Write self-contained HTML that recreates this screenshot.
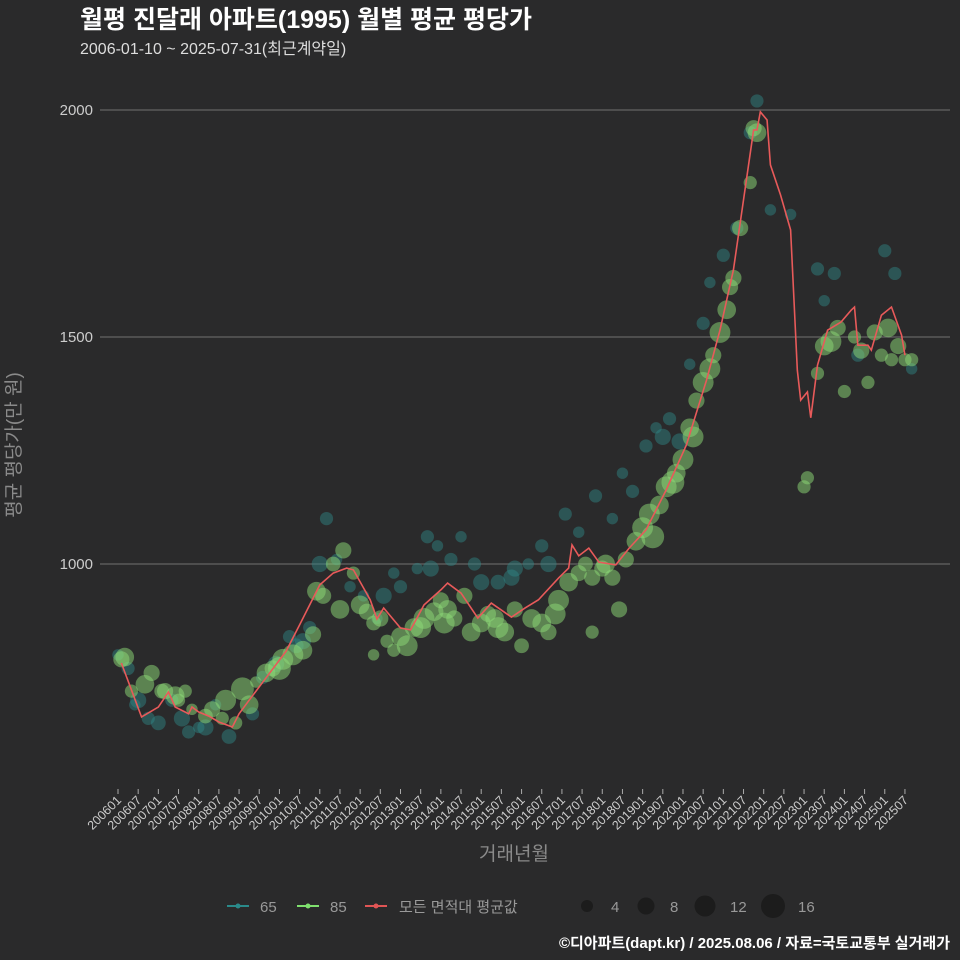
<!DOCTYPE html>
<html><head><meta charset="utf-8"><style>
body{margin:0;background:#2a2a2b;overflow:hidden;}
svg text{font-family:"Liberation Sans","Noto Sans CJK KR",sans-serif;}
</style></head><body>
<svg id="c" width="960" height="960" xmlns="http://www.w3.org/2000/svg" style="display:block">
<rect width="960" height="960" fill="#2a2a2b"/>
<text x="80" y="28" fill="#fff" font-size="25" font-weight="bold">월평 진달래 아파트(1995) 월별 평균 평당가</text>
<text x="80" y="54" fill="#ddd" font-size="16">2006-01-10 ~ 2025-07-31(최근계약일)</text>
<text transform="translate(20,445) rotate(-90)" text-anchor="middle" fill="#8a8a8a" font-size="19">평균 평당가(만 원)</text>
<text x="514" y="860" text-anchor="middle" fill="#8a8a8a" font-size="19">거래년월</text>
<g id="grid"></g><g id="teal"></g><g id="green"></g><g id="line"></g><g id="xaxis"></g>
<g font-size="15" fill="#999">
<line x1="227" y1="906" x2="249" y2="906" stroke="#2a8a8a" stroke-width="2"/><circle cx="238" cy="906" r="2.5" fill="#2a8a8a"/><text x="260" y="912">65</text>
<line x1="297" y1="906" x2="319" y2="906" stroke="#7fe06e" stroke-width="2"/><circle cx="308" cy="906" r="2.5" fill="#7fe06e"/><text x="330" y="912">85</text>
<line x1="365" y1="906" x2="387" y2="906" stroke="#e05555" stroke-width="2"/><circle cx="376" cy="906" r="2.5" fill="#e05555"/><text x="399" y="912">모든 면적대 평균값</text>
<circle cx="587" cy="906" r="6" fill="#1c1c1c"/><text x="611" y="912">4</text>
<circle cx="646" cy="906" r="8.5" fill="#1c1c1c"/><text x="670" y="912">8</text>
<circle cx="705" cy="906" r="10.5" fill="#1c1c1c"/><text x="730" y="912">12</text>
<circle cx="773" cy="906" r="12" fill="#1c1c1c"/><text x="798" y="912">16</text>
</g>
<text x="950" y="948" text-anchor="end" fill="#fff" font-size="15" font-weight="bold">©디아파트(dapt.kr) / 2025.08.06 / 자료=국토교통부 실거래가</text>
</svg>
<script>
const yTicks=[1000,1500,2000];
const lineMonths=[1,7,12,15,17,21,22,24,27,30,34,36,39,44,50,54,60,64,68,70,75,77,79,84,87,91,96,98,102,107,111,117,121,125,131,134,135,137,140,143,148,152,157,163,169,175,179,183,186,189,190,191,193,194,197,200,201,202,203,205,206,208,211,215,218,219,220,223,224,227,230,233,234];
const lineValues=[782,663,685,718,685,670,685,674,665,652,641,670,700,749,808,866,954,980,991,987,921,879,903,859,855,910,943,958,936,881,914,883,903,921,969,991,1042,1018,1035,1004,998,1035,1075,1163,1262,1405,1515,1648,1802,1956,1956,1996,1978,1879,1813,1736,1582,1427,1361,1379,1322,1438,1515,1533,1559,1566,1482,1482,1471,1548,1566,1504,1460];
const greenPts=[[1,790,6],[2,795,8],[4,720,4],[8,735,8],[10,760,6],[13,720,5],[14,720,6],[18,700,4],[20,720,4],[22,680,3],[26,665,5],[28,680,6],[31,660,4],[35,650,4],[37,725,12],[39,690,8],[41,740,3],[44,760,8],[46,770,6],[49,790,10],[52,800,10],[55,810,8],[58,845,6],[59,940,8],[61,930,6],[64,1000,5],[67,1030,6],[70,980,4],[72,910,8],[74,895,6],[76,870,5],[78,880,6],[80,830,4],[82,810,4],[84,840,8],[86,820,10],[88,860,8],[91,880,10],[94,895,8],[96,920,6],[98,900,8],[100,880,6],[103,930,6],[105,850,8],[108,870,8],[110,890,6],[112,880,8],[115,850,8],[118,900,6],[120,820,5],[123,880,8],[126,870,8],[128,850,6],[131,920,10],[134,960,8],[137,980,6],[139,1000,5],[141,970,6],[144,990,6],[147,970,6],[149,900,6],[151,1010,6],[154,1050,8],[156,1080,10],[159,1060,12],[161,1130,8],[163,1170,10],[166,1200,8],[168,1230,10],[170,1300,8],[172,1360,6],[174,1400,10],[177,1460,6],[179,1510,10],[181,1560,8],[183,1630,6],[185,1740,6],[188,1840,4],[189,1960,6],[190,1950,8],[204,1170,4],[205,1190,4],[208,1420,4],[210,1480,8],[212,1490,10],[214,1520,6],[216,1380,4],[219,1500,4],[221,1470,6],[223,1400,4],[225,1510,6],[227,1460,4],[229,1520,8],[230,1450,4],[232,1480,6],[234,1450,4],[236,1450,4],[141,850,4],[76,800,3],[17,710,8],[32,700,10],[48,770,12],[66,900,8],[90,860,10],[97,870,10],[113,860,10],[130,890,10],[145,1000,8],[158,1110,10],[165,1180,12],[171,1280,10],[176,1430,10],[182,1610,6]];
const tealPts=[[0,800,3],[3,770,4],[5,690,3],[9,660,4],[12,650,5],[16,700,4],[19,660,6],[21,630,4],[24,640,3],[29,690,3],[33,620,5],[40,670,4],[43,750,4],[47,780,6],[51,840,4],[53,820,5],[57,860,4],[60,1000,6],[62,1100,4],[65,1010,3],[69,950,3],[73,930,3],[77,880,3],[82,980,3],[84,950,4],[89,990,3],[92,1060,4],[95,1040,3],[99,1010,4],[102,1060,3],[106,1000,4],[113,960,5],[118,990,6],[122,1000,3],[126,1040,4],[133,1110,4],[137,1070,3],[142,1150,4],[147,1100,3],[150,1200,3],[153,1160,4],[157,1260,4],[160,1300,3],[164,1320,4],[167,1270,6],[170,1440,3],[174,1530,4],[176,1620,3],[180,1680,4],[184,1740,4],[188,1950,4],[190,2020,4],[194,1780,3],[200,1770,3],[208,1650,4],[210,1580,3],[213,1640,4],[220,1460,4],[228,1690,4],[231,1640,4],[236,1430,3],[6,700,6],[26,640,6],[55,830,6],[79,930,6],[93,990,6],[108,960,6],[117,970,6],[128,1000,6],[162,1280,6]];
const NS="http://www.w3.org/2000/svg";
const X=m=>118+m*3.363, Y=v=>110+(2000-v)*227/500, R=n=>Math.sqrt(n)*3.3;
function mk(t,a,p){const e=document.createElementNS(NS,t);for(const k in a)e.setAttribute(k,a[k]);document.getElementById(p).appendChild(e);return e;}
yTicks.forEach(v=>{
 const l=mk('line',{x1:100,x2:950,y1:Y(v),y2:Y(v),stroke:'#5a5a5a','stroke-width':1.5},'grid');
 
 
 const t=mk('text',{x:93,y:Y(v)+5,'text-anchor':'end',fill:'#ccc','font-size':15},'grid');t.textContent=v;
 
 
});
for(let i=0;i<40;i++){
 const m=i*6,yr=2006+Math.floor(i/2),lab=yr+(i%2?'07':'01'),x=X(m);
 const tk=mk('line',{x1:x,x2:x,y1:789,y2:794,stroke:'#aaa'},'xaxis');
 
 
 const t=mk('text',{transform:`translate(${x+4},${801}) rotate(-45)`,'text-anchor':'end',fill:'#ccc','font-size':12.5},'xaxis');t.textContent=lab;
 
 
}
tealPts.forEach(p=>{const c=mk('circle',{cx:X(p[0]),cy:Y(p[1]),r:R(p[2]),fill:'#2e8a8a','fill-opacity':0.45},'teal');
 
 });
greenPts.forEach(p=>{const c=mk('circle',{cx:X(p[0]),cy:Y(p[1]),r:R(p[2]),fill:'#8edc78','fill-opacity':0.5},'green');
 
 });
const pl=mk('polyline',{points:lineMonths.map((m,i)=>X(m)+','+Y(lineValues[i])).join(' '),fill:'none',stroke:'#e85a5a','stroke-width':1.6},'line');


</script>
</body></html>
